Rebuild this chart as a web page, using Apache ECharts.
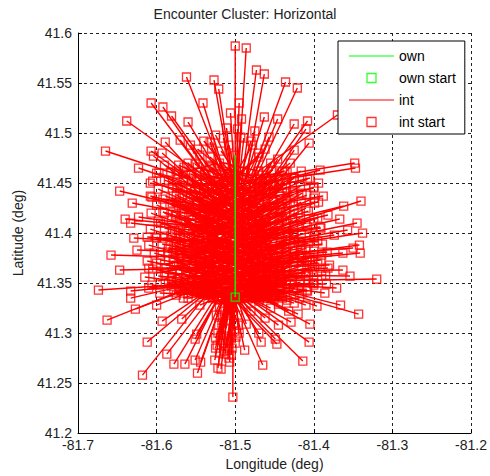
<!DOCTYPE html>
<html>
<head>
<meta charset="utf-8">
<script src="https://cdn.jsdelivr.net/npm/echarts@6.0.0/dist/echarts.min.js"></script>
<style>
  html, body { margin: 0; padding: 0; background: #fff; }
  #chart { width: 490px; height: 476px; }
</style>
</head>
<body>
<div id="chart"></div>
<script>
// Axis ticks
const xTickValues = [-81.7, -81.6, -81.5, -81.4, -81.3, -81.2];
const xTickLabels = ['-81.7', '-81.6', '-81.5', '-81.4', '-81.3', '-81.2'];
const yTickValues = [41.2, 41.25, 41.3, 41.35, 41.4, 41.45, 41.5, 41.55, 41.6];
const yTickLabels = ['41.2', '41.25', '41.3', '41.35', '41.4', '41.45', '41.5', '41.55', '41.6'];

// Own aircraft track (lon, lat)
const ownTrackLon = [-81.500, -81.500];
const ownTrackLat = [41.336, 41.478];
const ownStart = [-81.500, 41.336];

// Intruder tracks: [startLon, startLat, endLon, endLat]
const intTop = [
  [-81.500, 41.587, -81.500, 41.440], [-81.486, 41.585, -81.497, 41.445],
  [-81.473, 41.563, -81.492, 41.450], [-81.463, 41.559, -81.487, 41.452],
  [-81.562, 41.556, -81.512, 41.455], [-81.527, 41.553, -81.505, 41.455],
  [-81.521, 41.544, -81.503, 41.450], [-81.607, 41.530, -81.535, 41.455],
  [-81.592, 41.526, -81.530, 41.455], [-81.581, 41.517, -81.527, 41.458],
  [-81.541, 41.530, -81.510, 41.450], [-81.495, 41.530, -81.499, 41.440],
  [-81.638, 41.512, -81.545, 41.460], [-81.560, 41.511, -81.515, 41.452],
  [-81.463, 41.516, -81.490, 41.445], [-81.446, 41.514, -81.484, 41.442],
  [-81.425, 41.509, -81.476, 41.440], [-81.408, 41.512, -81.470, 41.445],
  [-81.410, 41.504, -81.468, 41.438], [-81.406, 41.490, -81.462, 41.435],
  [-81.425, 41.483, -81.470, 41.430], [-81.457, 41.496, -81.486, 41.438],
  [-81.475, 41.502, -81.491, 41.440], [-81.492, 41.514, -81.498, 41.442],
  [-81.436, 41.551, -81.482, 41.452], [-81.421, 41.545, -81.478, 41.448],
  [-81.511, 41.505, -81.502, 41.440], [-81.532, 41.491, -81.510, 41.440],
  [-81.570, 41.493, -81.522, 41.442], [-81.589, 41.491, -81.530, 41.440],
  [-81.557, 41.488, -81.518, 41.440], [-81.607, 41.482, -81.540, 41.445],
  [-81.593, 41.480, -81.535, 41.440], [-81.665, 41.482, -81.560, 41.455],
  [-81.370, 41.518, -81.470, 41.462], [-81.604, 41.477, -81.545, 41.440],
  [-81.497, 41.504, -81.499, 41.440], [-81.446, 41.474, -81.480, 41.430],
  [-81.506, 41.520, -81.500, 41.445], [-81.489, 41.495, -81.497, 41.440],
  [-81.540, 41.492, -81.500, 41.455], [-81.525, 41.498, -81.497, 41.450],
  [-81.508, 41.488, -81.496, 41.445], [-81.493, 41.496, -81.502, 41.448],
  [-81.478, 41.488, -81.505, 41.452], [-81.462, 41.484, -81.508, 41.450],
  [-81.548, 41.484, -81.492, 41.448], [-81.532, 41.476, -81.488, 41.445],
  [-81.518, 41.482, -81.485, 41.446], [-81.470, 41.476, -81.512, 41.446]
];

const intRight = [
  [-81.348, 41.470, -81.465, 41.455], [-81.347, 41.465, -81.470, 41.450],
  [-81.392, 41.463, -81.480, 41.445], [-81.394, 41.450, -81.478, 41.440],
  [-81.340, 41.432, -81.470, 41.400], [-81.362, 41.427, -81.475, 41.405],
  [-81.382, 41.418, -81.480, 41.400], [-81.367, 41.414, -81.475, 41.395],
  [-81.345, 41.410, -81.470, 41.390], [-81.338, 41.400, -81.465, 41.385],
  [-81.357, 41.403, -81.470, 41.388], [-81.374, 41.398, -81.478, 41.385],
  [-81.392, 41.406, -81.485, 41.395], [-81.342, 41.388, -81.465, 41.375],
  [-81.341, 41.380, -81.470, 41.370], [-81.363, 41.380, -81.475, 41.372],
  [-81.350, 41.385, -81.468, 41.378], [-81.320, 41.354, -81.460, 41.352],
  [-81.354, 41.357, -81.470, 41.358], [-81.371, 41.345, -81.475, 41.350],
  [-81.386, 41.340, -81.480, 41.350], [-81.363, 41.363, -81.470, 41.362],
  [-81.394, 41.431, -81.480, 41.420], [-81.388, 41.437, -81.480, 41.425],
  [-81.402, 41.372, -81.485, 41.370], [-81.380, 41.368, -81.480, 41.365],
  [-81.395, 41.392, -81.485, 41.385], [-81.405, 41.455, -81.482, 41.440],
  [-81.400, 41.445, -81.480, 41.432]
];

const intBottomRight = [
  [-81.445, 41.329, -81.495, 41.345], [-81.410, 41.328, -81.490, 41.350],
  [-81.396, 41.327, -81.488, 41.352], [-81.366, 41.328, -81.485, 41.352],
  [-81.343, 41.319, -81.480, 41.350], [-81.420, 41.319, -81.492, 41.345],
  [-81.429, 41.311, -81.495, 41.340], [-81.405, 41.309, -81.490, 41.345],
  [-81.445, 41.308, -81.497, 41.338], [-81.449, 41.294, -81.500, 41.335],
  [-81.447, 41.289, -81.500, 41.332], [-81.406, 41.291, -81.493, 41.340],
  [-81.414, 41.272, -81.495, 41.335], [-81.432, 41.322, -81.494, 41.345],
  [-81.462, 41.315, -81.498, 41.340], [-81.470, 41.300, -81.500, 41.336]
];

const intBottom = [
  [-81.467, 41.291, -81.498, 41.340], [-81.465, 41.268, -81.500, 41.330],
  [-81.488, 41.283, -81.502, 41.335], [-81.486, 41.309, -81.500, 41.340],
  [-81.503, 41.236, -81.503, 41.330], [-81.507, 41.271, -81.505, 41.335],
  [-81.518, 41.264, -81.508, 41.335], [-81.522, 41.265, -81.509, 41.335],
  [-81.526, 41.273, -81.510, 41.335], [-81.544, 41.271, -81.515, 41.335],
  [-81.551, 41.273, -81.515, 41.338], [-81.548, 41.260, -81.515, 41.335],
  [-81.564, 41.269, -81.520, 41.338], [-81.578, 41.269, -81.522, 41.340],
  [-81.587, 41.279, -81.525, 41.342], [-81.618, 41.258, -81.530, 41.345],
  [-81.612, 41.291, -81.530, 41.345], [-81.551, 41.294, -81.518, 41.340],
  [-81.549, 41.299, -81.518, 41.340], [-81.593, 41.312, -81.530, 41.345],
  [-81.568, 41.314, -81.525, 41.345], [-81.663, 41.313, -81.545, 41.350],
  [-81.627, 41.324, -81.540, 41.350], [-81.633, 41.335, -81.540, 41.352],
  [-81.600, 41.328, -81.535, 41.348], [-81.566, 41.335, -81.525, 41.346],
  [-81.525, 41.285, -81.508, 41.340]
];

const intLeft = [
  [-81.647, 41.442, -81.530, 41.420], [-81.608, 41.437, -81.525, 41.420],
  [-81.631, 41.430, -81.530, 41.415], [-81.640, 41.414, -81.530, 41.405],
  [-81.633, 41.410, -81.525, 41.400], [-81.623, 41.416, -81.525, 41.405],
  [-81.629, 41.395, -81.520, 41.390], [-81.612, 41.396, -81.520, 41.390],
  [-81.625, 41.383, -81.525, 41.380], [-81.658, 41.378, -81.530, 41.375],
  [-81.591, 41.395, -81.515, 41.390], [-81.647, 41.363, -81.530, 41.365],
  [-81.610, 41.365, -81.520, 41.365], [-81.674, 41.343, -81.540, 41.350],
  [-81.633, 41.342, -81.530, 41.350], [-81.610, 41.345, -81.525, 41.352],
  [-81.623, 41.465, -81.530, 41.440], [-81.597, 41.460, -81.525, 41.440],
  [-81.608, 41.450, -81.525, 41.435], [-81.592, 41.434, -81.520, 41.425],
  [-81.572, 41.428, -81.515, 41.415]
];

// tracks starting inside the cluster, west of the own track
const intWestCore = [
  [-81.590, 41.468, -81.495, 41.430], [-81.572, 41.468, -81.490, 41.438], [-81.551, 41.469, -81.485, 41.425], [-81.533, 41.467, -81.480, 41.432],
  [-81.600, 41.460, -81.492, 41.418], [-81.582, 41.461, -81.478, 41.428], [-81.563, 41.459, -81.487, 41.410], [-81.545, 41.461, -81.470, 41.425], [-81.527, 41.460, -81.476, 41.415],
  [-81.605, 41.452, -81.488, 41.412], [-81.590, 41.453, -81.472, 41.420], [-81.574, 41.451, -81.482, 41.402], [-81.556, 41.453, -81.466, 41.418], [-81.538, 41.452, -81.474, 41.405], [-81.521, 41.451, -81.462, 41.422],
  [-81.598, 41.444, -81.485, 41.405], [-81.580, 41.445, -81.468, 41.412], [-81.562, 41.443, -81.478, 41.395], [-81.546, 41.445, -81.460, 41.408], [-81.529, 41.444, -81.470, 41.398],
  [-81.606, 41.436, -81.482, 41.398], [-81.589, 41.437, -81.465, 41.405], [-81.571, 41.435, -81.475, 41.388], [-81.553, 41.437, -81.458, 41.400], [-81.536, 41.436, -81.468, 41.390], [-81.519, 41.435, -81.455, 41.410],
  [-81.600, 41.428, -81.480, 41.390], [-81.583, 41.429, -81.462, 41.398], [-81.565, 41.427, -81.472, 41.380], [-81.548, 41.429, -81.455, 41.392], [-81.530, 41.428, -81.465, 41.382],
  [-81.607, 41.420, -81.478, 41.383], [-81.592, 41.421, -81.460, 41.392], [-81.575, 41.419, -81.470, 41.373], [-81.557, 41.421, -81.452, 41.385], [-81.540, 41.420, -81.462, 41.375], [-81.523, 41.419, -81.450, 41.398],
  [-81.598, 41.412, -81.475, 41.376], [-81.581, 41.413, -81.458, 41.385], [-81.563, 41.411, -81.468, 41.366], [-81.545, 41.413, -81.450, 41.378], [-81.528, 41.412, -81.460, 41.368],
  [-81.608, 41.404, -81.472, 41.370], [-81.590, 41.405, -81.455, 41.378], [-81.572, 41.403, -81.466, 41.360], [-81.554, 41.405, -81.448, 41.372], [-81.537, 41.404, -81.458, 41.362], [-81.520, 41.403, -81.445, 41.385],
  [-81.600, 41.396, -81.470, 41.364], [-81.582, 41.397, -81.452, 41.372], [-81.566, 41.395, -81.464, 41.354], [-81.548, 41.397, -81.446, 41.366], [-81.531, 41.396, -81.456, 41.356],
  [-81.610, 41.388, -81.468, 41.358], [-81.593, 41.389, -81.450, 41.366], [-81.575, 41.387, -81.462, 41.350], [-81.558, 41.389, -81.444, 41.360], [-81.540, 41.388, -81.454, 41.352], [-81.522, 41.387, -81.440, 41.372],
  [-81.603, 41.380, -81.466, 41.353], [-81.586, 41.381, -81.448, 41.360], [-81.568, 41.379, -81.460, 41.346], [-81.550, 41.381, -81.442, 41.355], [-81.533, 41.380, -81.452, 41.348],
  [-81.612, 41.372, -81.464, 41.348], [-81.595, 41.373, -81.446, 41.355], [-81.578, 41.371, -81.458, 41.342], [-81.561, 41.373, -81.440, 41.350], [-81.543, 41.372, -81.450, 41.344], [-81.526, 41.371, -81.438, 41.360],
  [-81.605, 41.364, -81.462, 41.344], [-81.588, 41.365, -81.444, 41.350], [-81.571, 41.363, -81.456, 41.338], [-81.553, 41.365, -81.438, 41.346], [-81.536, 41.364, -81.448, 41.340],
  [-81.615, 41.356, -81.460, 41.340], [-81.598, 41.357, -81.442, 41.346], [-81.581, 41.355, -81.454, 41.335], [-81.563, 41.357, -81.436, 41.342], [-81.546, 41.356, -81.446, 41.336], [-81.529, 41.355, -81.434, 41.350],
  [-81.606, 41.348, -81.458, 41.338], [-81.589, 41.349, -81.440, 41.342], [-81.572, 41.347, -81.452, 41.333], [-81.556, 41.349, -81.434, 41.340], [-81.538, 41.348, -81.444, 41.334],
  [-81.596, 41.340, -81.456, 41.335], [-81.578, 41.341, -81.438, 41.338], [-81.560, 41.339, -81.450, 41.330], [-81.543, 41.341, -81.432, 41.336], [-81.527, 41.340, -81.442, 41.332]
];

// tracks starting inside the cluster, east of the own track
const intEastCore = [
  [-81.470, 41.462, -81.520, 41.425], [-81.452, 41.463, -81.530, 41.432], [-81.434, 41.461, -81.515, 41.418], [-81.416, 41.462, -81.525, 41.428],
  [-81.478, 41.454, -81.535, 41.418], [-81.460, 41.455, -81.512, 41.410], [-81.443, 41.453, -81.540, 41.425], [-81.425, 41.455, -81.520, 41.405], [-81.408, 41.454, -81.530, 41.415],
  [-81.470, 41.446, -81.545, 41.412], [-81.452, 41.447, -81.518, 41.400], [-81.435, 41.445, -81.550, 41.420], [-81.417, 41.447, -81.525, 41.398], [-81.400, 41.446, -81.535, 41.408],
  [-81.477, 41.438, -81.552, 41.405], [-81.461, 41.439, -81.522, 41.392], [-81.443, 41.437, -81.558, 41.412], [-81.426, 41.439, -81.530, 41.390], [-81.409, 41.438, -81.540, 41.400],
  [-81.469, 41.430, -81.560, 41.398], [-81.451, 41.431, -81.528, 41.385], [-81.434, 41.429, -81.565, 41.405], [-81.416, 41.431, -81.535, 41.382], [-81.399, 41.430, -81.545, 41.392],
  [-81.478, 41.422, -81.568, 41.390], [-81.460, 41.423, -81.532, 41.378], [-81.442, 41.421, -81.572, 41.398], [-81.425, 41.423, -81.540, 41.375], [-81.407, 41.422, -81.550, 41.385],
  [-81.470, 41.414, -81.575, 41.383], [-81.452, 41.415, -81.538, 41.370], [-81.435, 41.413, -81.580, 41.390], [-81.417, 41.415, -81.545, 41.368], [-81.400, 41.414, -81.555, 41.378],
  [-81.477, 41.406, -81.582, 41.375], [-81.460, 41.407, -81.542, 41.362], [-81.443, 41.405, -81.586, 41.383], [-81.426, 41.407, -81.550, 41.360], [-81.408, 41.406, -81.560, 41.370], [-81.391, 41.405, -81.548, 41.386],
  [-81.469, 41.398, -81.588, 41.368], [-81.451, 41.399, -81.546, 41.355], [-81.434, 41.397, -81.592, 41.376], [-81.416, 41.399, -81.555, 41.352], [-81.399, 41.398, -81.565, 41.362],
  [-81.478, 41.390, -81.594, 41.360], [-81.460, 41.391, -81.550, 41.348], [-81.442, 41.389, -81.596, 41.368], [-81.425, 41.391, -81.560, 41.345], [-81.407, 41.390, -81.570, 41.355], [-81.389, 41.389, -81.552, 41.375],
  [-81.470, 41.382, -81.598, 41.352], [-81.452, 41.383, -81.555, 41.342], [-81.435, 41.381, -81.600, 41.360], [-81.417, 41.383, -81.565, 41.340], [-81.400, 41.382, -81.575, 41.348], [-81.383, 41.381, -81.556, 41.368],
  [-81.477, 41.374, -81.560, 41.345], [-81.460, 41.375, -81.540, 41.340], [-81.443, 41.373, -81.580, 41.352], [-81.426, 41.375, -81.550, 41.338], [-81.408, 41.374, -81.570, 41.346], [-81.391, 41.373, -81.545, 41.360],
  [-81.469, 41.366, -81.555, 41.342], [-81.451, 41.367, -81.535, 41.336], [-81.434, 41.365, -81.575, 41.348], [-81.416, 41.367, -81.545, 41.335], [-81.399, 41.366, -81.565, 41.343], [-81.382, 41.365, -81.540, 41.356],
  [-81.478, 41.358, -81.550, 41.340], [-81.460, 41.359, -81.530, 41.334], [-81.442, 41.357, -81.570, 41.345], [-81.425, 41.359, -81.540, 41.333], [-81.407, 41.358, -81.560, 41.340], [-81.390, 41.357, -81.535, 41.352],
  [-81.470, 41.350, -81.545, 41.337], [-81.452, 41.351, -81.525, 41.332], [-81.435, 41.349, -81.565, 41.342], [-81.417, 41.351, -81.535, 41.331], [-81.400, 41.350, -81.555, 41.338], [-81.384, 41.349, -81.530, 41.348],
  [-81.477, 41.342, -81.540, 41.334], [-81.460, 41.343, -81.520, 41.330], [-81.443, 41.341, -81.560, 41.340], [-81.426, 41.343, -81.530, 41.330], [-81.408, 41.342, -81.550, 41.336],
  [-81.469, 41.334, -81.535, 41.331], [-81.451, 41.335, -81.515, 41.328], [-81.434, 41.333, -81.555, 41.338], [-81.418, 41.335, -81.525, 41.329]
];

// short tracks packed close to the own track, west side
const intInnerWest = [
  [-81.565, 41.466, -81.520, 41.445], [-81.548, 41.466, -81.497, 41.452], [-81.531, 41.466, -81.488, 41.440], [-81.514, 41.466, -81.470, 41.455],
  [-81.573, 41.459, -81.522, 41.470], [-81.556, 41.459, -81.505, 41.438], [-81.539, 41.459, -81.492, 41.448], [-81.522, 41.459, -81.475, 41.436], [-81.506, 41.459, -81.462, 41.446],
  [-81.566, 41.452, -81.515, 41.432], [-81.549, 41.452, -81.500, 41.462], [-81.532, 41.452, -81.482, 41.430], [-81.515, 41.452, -81.468, 41.440],
  [-81.574, 41.445, -81.526, 41.428], [-81.557, 41.445, -81.508, 41.455], [-81.540, 41.445, -81.490, 41.425], [-81.523, 41.445, -81.476, 41.432], [-81.507, 41.445, -81.458, 41.438],
  [-81.567, 41.438, -81.518, 41.420], [-81.550, 41.438, -81.502, 41.448], [-81.533, 41.438, -81.484, 41.418], [-81.516, 41.438, -81.466, 41.428],
  [-81.575, 41.431, -81.528, 41.412], [-81.558, 41.431, -81.510, 41.442], [-81.541, 41.431, -81.494, 41.410], [-81.524, 41.431, -81.474, 41.420], [-81.508, 41.431, -81.456, 41.425],
  [-81.568, 41.424, -81.520, 41.404], [-81.551, 41.424, -81.503, 41.436], [-81.534, 41.424, -81.486, 41.402], [-81.517, 41.424, -81.468, 41.412],
  [-81.576, 41.417, -81.530, 41.398], [-81.559, 41.417, -81.512, 41.428], [-81.542, 41.417, -81.495, 41.396], [-81.525, 41.417, -81.476, 41.405], [-81.509, 41.417, -81.458, 41.410],
  [-81.569, 41.410, -81.522, 41.390], [-81.552, 41.410, -81.505, 41.422], [-81.535, 41.410, -81.488, 41.388], [-81.518, 41.410, -81.470, 41.398],
  [-81.577, 41.403, -81.532, 41.384], [-81.560, 41.403, -81.514, 41.414], [-81.543, 41.403, -81.497, 41.382], [-81.526, 41.403, -81.478, 41.390], [-81.510, 41.403, -81.460, 41.396],
  [-81.570, 41.396, -81.524, 41.376], [-81.553, 41.396, -81.507, 41.408], [-81.536, 41.396, -81.490, 41.374], [-81.519, 41.396, -81.472, 41.384],
  [-81.578, 41.389, -81.534, 41.370], [-81.561, 41.389, -81.516, 41.400], [-81.544, 41.389, -81.499, 41.368], [-81.527, 41.389, -81.480, 41.376], [-81.511, 41.389, -81.462, 41.382],
  [-81.571, 41.382, -81.526, 41.362], [-81.554, 41.382, -81.509, 41.394], [-81.537, 41.382, -81.492, 41.360], [-81.520, 41.382, -81.474, 41.370],
  [-81.579, 41.375, -81.536, 41.356], [-81.562, 41.375, -81.518, 41.386], [-81.545, 41.375, -81.501, 41.354], [-81.528, 41.375, -81.482, 41.362], [-81.512, 41.375, -81.464, 41.368],
  [-81.572, 41.368, -81.528, 41.348], [-81.555, 41.368, -81.511, 41.380], [-81.538, 41.368, -81.494, 41.346], [-81.521, 41.368, -81.476, 41.356],
  [-81.580, 41.361, -81.538, 41.342], [-81.563, 41.361, -81.520, 41.372], [-81.546, 41.361, -81.503, 41.340], [-81.529, 41.361, -81.484, 41.348], [-81.513, 41.361, -81.466, 41.354],
  [-81.573, 41.354, -81.530, 41.338], [-81.556, 41.354, -81.513, 41.366], [-81.539, 41.354, -81.496, 41.336], [-81.522, 41.354, -81.478, 41.342],
  [-81.581, 41.347, -81.540, 41.336], [-81.564, 41.347, -81.522, 41.358], [-81.547, 41.347, -81.505, 41.332], [-81.530, 41.347, -81.486, 41.338], [-81.514, 41.347, -81.468, 41.344],
  [-81.566, 41.340, -81.525, 41.352], [-81.549, 41.340, -81.508, 41.330], [-81.532, 41.340, -81.490, 41.334], [-81.516, 41.340, -81.472, 41.338]
];

// short tracks packed close to the own track, east side
const intInnerEast = [
  [-81.488, 41.462, -81.530, 41.445], [-81.471, 41.462, -81.515, 41.470], [-81.454, 41.462, -81.500, 41.440], [-81.437, 41.462, -81.482, 41.452],
  [-81.494, 41.455, -81.540, 41.436], [-81.479, 41.455, -81.522, 41.466], [-81.462, 41.455, -81.508, 41.432], [-81.445, 41.455, -81.490, 41.444], [-81.428, 41.455, -81.474, 41.436],
  [-81.487, 41.448, -81.535, 41.428], [-81.470, 41.448, -81.515, 41.458], [-81.453, 41.448, -81.500, 41.425], [-81.436, 41.448, -81.482, 41.436],
  [-81.495, 41.441, -81.545, 41.420], [-81.478, 41.441, -81.524, 41.452], [-81.461, 41.441, -81.508, 41.418], [-81.444, 41.441, -81.490, 41.428], [-81.427, 41.441, -81.472, 41.420],
  [-81.486, 41.434, -81.535, 41.412], [-81.469, 41.434, -81.515, 41.445], [-81.452, 41.434, -81.500, 41.410], [-81.435, 41.434, -81.482, 41.420],
  [-81.494, 41.427, -81.545, 41.404], [-81.477, 41.427, -81.524, 41.438], [-81.460, 41.427, -81.508, 41.402], [-81.443, 41.427, -81.490, 41.412], [-81.426, 41.427, -81.472, 41.405],
  [-81.487, 41.420, -81.538, 41.396], [-81.470, 41.420, -81.516, 41.430], [-81.453, 41.420, -81.500, 41.394], [-81.436, 41.420, -81.482, 41.404],
  [-81.495, 41.413, -81.548, 41.390], [-81.478, 41.413, -81.526, 41.424], [-81.461, 41.413, -81.509, 41.388], [-81.444, 41.413, -81.490, 41.396], [-81.427, 41.413, -81.474, 41.390],
  [-81.486, 41.406, -81.538, 41.382], [-81.469, 41.406, -81.516, 41.416], [-81.452, 41.406, -81.500, 41.380], [-81.435, 41.406, -81.482, 41.388],
  [-81.494, 41.399, -81.548, 41.376], [-81.477, 41.399, -81.525, 41.410], [-81.460, 41.399, -81.508, 41.374], [-81.443, 41.399, -81.490, 41.382], [-81.426, 41.399, -81.474, 41.376],
  [-81.487, 41.392, -81.540, 41.368], [-81.470, 41.392, -81.517, 41.402], [-81.453, 41.392, -81.500, 41.366], [-81.436, 41.392, -81.482, 41.374], [-81.419, 41.392, -81.466, 41.380],
  [-81.495, 41.385, -81.550, 41.362], [-81.478, 41.385, -81.526, 41.396], [-81.461, 41.385, -81.509, 41.360], [-81.444, 41.385, -81.490, 41.368], [-81.427, 41.385, -81.474, 41.362], [-81.410, 41.385, -81.456, 41.372],
  [-81.486, 41.378, -81.540, 41.356], [-81.469, 41.378, -81.517, 41.388], [-81.452, 41.378, -81.500, 41.354], [-81.435, 41.378, -81.482, 41.362], [-81.418, 41.378, -81.465, 41.356],
  [-81.494, 41.371, -81.550, 41.350], [-81.477, 41.371, -81.525, 41.382], [-81.460, 41.371, -81.508, 41.348], [-81.443, 41.371, -81.490, 41.356], [-81.426, 41.371, -81.474, 41.350], [-81.409, 41.371, -81.456, 41.360],
  [-81.487, 41.364, -81.542, 41.344], [-81.470, 41.364, -81.518, 41.374], [-81.453, 41.364, -81.500, 41.342], [-81.436, 41.364, -81.482, 41.350], [-81.419, 41.364, -81.466, 41.344], [-81.402, 41.364, -81.448, 41.354],
  [-81.495, 41.357, -81.550, 41.340], [-81.478, 41.357, -81.526, 41.368], [-81.461, 41.357, -81.509, 41.338], [-81.444, 41.357, -81.490, 41.344], [-81.427, 41.357, -81.474, 41.340], [-81.410, 41.357, -81.456, 41.348],
  [-81.486, 41.350, -81.540, 41.336], [-81.469, 41.350, -81.517, 41.362], [-81.452, 41.350, -81.500, 41.334], [-81.435, 41.350, -81.482, 41.340], [-81.418, 41.350, -81.465, 41.336], [-81.401, 41.350, -81.448, 41.342],
  [-81.494, 41.343, -81.548, 41.334], [-81.477, 41.343, -81.525, 41.354], [-81.460, 41.343, -81.508, 41.332], [-81.443, 41.343, -81.490, 41.336], [-81.426, 41.343, -81.474, 41.333], [-81.409, 41.343, -81.456, 41.338],
  [-81.487, 41.336, -81.538, 41.345], [-81.470, 41.336, -81.518, 41.330], [-81.453, 41.336, -81.500, 41.332], [-81.436, 41.336, -81.482, 41.330]
];

const intCore = [
  [-81.545, 41.478, -81.505, 41.440], [-81.530, 41.485, -81.500, 41.445],
  [-81.520, 41.470, -81.498, 41.435], [-81.470, 41.480, -81.495, 41.440],
  [-81.455, 41.470, -81.490, 41.435], [-81.480, 41.492, -81.497, 41.445],
  [-81.515, 41.495, -81.502, 41.445], [-81.560, 41.470, -81.515, 41.440],
  [-81.440, 41.462, -81.485, 41.430], [-81.500, 41.478, -81.500, 41.430],
  [-81.575, 41.462, -81.525, 41.435], [-81.430, 41.470, -81.480, 41.440],
  [-81.585, 41.452, -81.520, 41.420], [-81.570, 41.445, -81.515, 41.415],
  [-81.555, 41.455, -81.510, 41.420], [-81.540, 41.440, -81.505, 41.410],
  [-81.525, 41.450, -81.500, 41.420], [-81.580, 41.430, -81.515, 41.410],
  [-81.565, 41.425, -81.510, 41.400], [-81.548, 41.432, -81.505, 41.405],
  [-81.590, 41.420, -81.520, 41.400], [-81.575, 41.438, -81.510, 41.415],
  [-81.535, 41.425, -81.500, 41.400], [-81.455, 41.452, -81.490, 41.420],
  [-81.440, 41.445, -81.485, 41.415], [-81.425, 41.455, -81.480, 41.425],
  [-81.415, 41.440, -81.478, 41.410], [-81.470, 41.440, -81.495, 41.415],
  [-81.430, 41.430, -81.485, 41.405], [-81.410, 41.425, -81.475, 41.400],
  [-81.450, 41.425, -81.490, 41.400], [-81.465, 41.458, -81.492, 41.425],
  [-81.420, 41.420, -81.480, 41.395], [-81.400, 41.435, -81.475, 41.410],
  [-81.595, 41.410, -81.520, 41.390], [-81.580, 41.400, -81.515, 41.385],
  [-81.565, 41.412, -81.510, 41.390], [-81.550, 41.395, -81.505, 41.380],
  [-81.585, 41.385, -81.520, 41.375], [-81.570, 41.380, -81.515, 41.370],
  [-81.555, 41.418, -81.510, 41.395], [-81.540, 41.405, -81.505, 41.385],
  [-81.600, 41.395, -81.525, 41.380], [-81.530, 41.390, -81.500, 41.375],
  [-81.560, 41.388, -81.510, 41.375], [-81.575, 41.392, -81.515, 41.380],
  [-81.410, 41.410, -81.480, 41.390], [-81.425, 41.400, -81.485, 41.385],
  [-81.440, 41.415, -81.490, 41.395], [-81.455, 41.405, -81.492, 41.385],
  [-81.400, 41.395, -81.478, 41.380], [-81.415, 41.385, -81.482, 41.375],
  [-81.430, 41.390, -81.486, 41.378], [-81.465, 41.395, -81.495, 41.380],
  [-81.395, 41.415, -81.475, 41.395], [-81.445, 41.380, -81.490, 41.370],
  [-81.470, 41.410, -81.497, 41.390], [-81.600, 41.370, -81.525, 41.360],
  [-81.590, 41.360, -81.520, 41.355], [-81.575, 41.368, -81.515, 41.358],
  [-81.560, 41.375, -81.510, 41.362], [-81.545, 41.360, -81.505, 41.352],
  [-81.585, 41.350, -81.520, 41.350], [-81.570, 41.345, -81.515, 41.348],
  [-81.555, 41.352, -81.510, 41.350], [-81.595, 41.378, -81.522, 41.365],
  [-81.535, 41.370, -81.505, 41.360], [-81.520, 41.358, -81.500, 41.350],
  [-81.540, 41.345, -81.505, 41.345], [-81.395, 41.370, -81.478, 41.362],
  [-81.410, 41.360, -81.482, 41.356], [-81.425, 41.372, -81.485, 41.364],
  [-81.440, 41.355, -81.488, 41.352], [-81.385, 41.358, -81.475, 41.355],
  [-81.400, 41.348, -81.480, 41.350], [-81.415, 41.340, -81.485, 41.346],
  [-81.430, 41.348, -81.488, 41.348], [-81.455, 41.365, -81.492, 41.360],
  [-81.470, 41.350, -81.495, 41.350], [-81.390, 41.378, -81.476, 41.368],
  [-81.405, 41.376, -81.480, 41.366], [-81.448, 41.375, -81.490, 41.368],
  [-81.462, 41.342, -81.495, 41.345], [-81.560, 41.335, -81.515, 41.342],
  [-81.545, 41.328, -81.510, 41.340], [-81.530, 41.338, -81.507, 41.342],
  [-81.575, 41.338, -81.520, 41.345], [-81.440, 41.335, -81.490, 41.342],
  [-81.455, 41.325, -81.493, 41.340], [-81.470, 41.332, -81.496, 41.340],
  [-81.425, 41.330, -81.488, 41.345], [-81.480, 41.322, -81.498, 41.338]
];

const intColumn = [
  [-81.520, 41.280, -81.508, 41.335], [-81.515, 41.290, -81.506, 41.335],
  [-81.510, 41.285, -81.505, 41.330], [-81.505, 41.278, -81.503, 41.330],
  [-81.500, 41.290, -81.502, 41.332], [-81.495, 41.300, -81.500, 41.335],
  [-81.522, 41.300, -81.510, 41.338], [-81.517, 41.310, -81.508, 41.338],
  [-81.512, 41.305, -81.506, 41.336], [-81.507, 41.295, -81.504, 41.333],
  [-81.502, 41.310, -81.502, 41.335], [-81.497, 41.318, -81.500, 41.338],
  [-81.524, 41.318, -81.510, 41.340], [-81.513, 41.322, -81.506, 41.340],
  [-81.508, 41.275, -81.504, 41.330], [-81.519, 41.293, -81.508, 41.336],
  [-81.523, 41.288, -81.506, 41.340], [-81.518, 41.298, -81.503, 41.338],
  [-81.514, 41.282, -81.500, 41.336], [-81.509, 41.292, -81.498, 41.340],
  [-81.504, 41.285, -81.508, 41.342], [-81.499, 41.296, -81.510, 41.338],
  [-81.496, 41.308, -81.512, 41.342], [-81.521, 41.308, -81.500, 41.342],
  [-81.516, 41.316, -81.498, 41.345], [-81.511, 41.312, -81.515, 41.345],
  [-81.506, 41.318, -81.518, 41.344], [-81.501, 41.302, -81.514, 41.340],
  [-81.525, 41.295, -81.504, 41.336], [-81.520, 41.326, -81.500, 41.348],
  [-81.505, 41.325, -81.520, 41.348], [-81.513, 41.279, -81.502, 41.332]
];

const intTracks = [].concat(intTop, intRight, intBottomRight, intBottom, intLeft,
  intWestCore, intEastCore, intInnerWest, intInnerEast, intCore, intColumn);

const RED = '#ff0000';
const GREEN = '#00ff00';
const FONT = '"Liberation Sans", Arial, sans-serif';
const LINE_ICON = 'path://M0,0H45V1H0Z';
const SQUARE_ICON = 'path://M0,0H10V10H0Z';

function tickLabel(values, labels) {
  return function (v) {
    for (let i = 0; i < values.length; i++) {
      if (Math.abs(values[i] - v) < 1e-6) return labels[i];
    }
    return '';
  };
}

const series = [];

// intruder trajectories, one line series per track
intTracks.forEach(function (t) {
  series.push({
    type: 'line', name: 'int',
    data: [[t[0], t[1]], [t[2], t[3]]],
    symbol: 'none', silent: true, z: 2,
    lineStyle: { color: RED, width: 1.4 },
    itemStyle: { color: RED }
  });
});

series.push({
  type: 'scatter', name: 'int start',
  data: intTracks.map(function (t) { return [t[0], t[1]]; }),
  symbol: 'rect', symbolSize: 8, silent: true, z: 3,
  itemStyle: { color: 'rgba(255,255,255,0)', borderColor: RED, borderWidth: 1.3 }
});

series.push({
  type: 'line', name: 'own',
  data: ownTrackLon.map(function (lon, i) { return [lon, ownTrackLat[i]]; }),
  symbol: 'none', silent: true, z: 4,
  lineStyle: { color: GREEN, width: 1.4 },
  itemStyle: { color: GREEN }
});

series.push({
  type: 'scatter', name: 'own start',
  data: [ownStart],
  symbol: 'rect', symbolSize: 8, silent: true, z: 5,
  itemStyle: { color: 'rgba(255,255,255,0)', borderColor: GREEN, borderWidth: 1.3 }
});

const chart = echarts.init(document.getElementById('chart'), null, { renderer: 'svg' });
chart.setOption({
  animation: false,
  backgroundColor: '#ffffff',
  textStyle: { fontFamily: FONT },
  title: {
    text: 'Encounter Cluster: Horizontal',
    left: 'center', top: 7, padding: 0,
    textStyle: { fontFamily: FONT, fontSize: 14, fontWeight: 'normal', color: '#222' }
  },
  legend: {
    data: [
      { name: 'own', icon: LINE_ICON, itemStyle: { color: GREEN, borderWidth: 0 } },
      { name: 'own start', icon: SQUARE_ICON,
        itemStyle: { color: 'rgba(255,255,255,0)', borderColor: GREEN, borderWidth: 1.3 } },
      { name: 'int', icon: LINE_ICON, itemStyle: { color: RED, borderWidth: 0 } },
      { name: 'int start', icon: SQUARE_ICON,
        itemStyle: { color: 'rgba(255,255,255,0)', borderColor: RED, borderWidth: 1.3 } }
    ],
    orient: 'vertical',
    left: 338, top: 41,
    padding: [8, 9, 5, 11],
    itemGap: 8,
    itemWidth: 45, itemHeight: 9,
    backgroundColor: '#ffffff',
    borderColor: '#000', borderWidth: 1, borderRadius: 0,
    selectedMode: false,
    textStyle: { fontFamily: FONT, fontSize: 14, color: '#000' }
  },
  grid: { left: 78, right: 14, top: 33, bottom: 41, containLabel: false },
  xAxis: {
    type: 'value', min: -81.7, max: -81.2, interval: 0.1,
    name: 'Longitude (deg)', nameLocation: 'middle', nameGap: 23,
    nameTextStyle: { fontFamily: FONT, fontSize: 14, color: '#222' },
    axisLine: { show: true, onZero: false, lineStyle: { color: '#000', width: 1 } },
    axisTick: { show: true, inside: true, length: 4, lineStyle: { color: '#000' } },
    axisLabel: { margin: 5, fontFamily: FONT, fontSize: 14, color: '#222',
      formatter: tickLabel(xTickValues, xTickLabels) },
    splitLine: { show: true, lineStyle: { color: '#222', type: [3, 3], width: 1 } }
  },
  yAxis: {
    type: 'value', min: 41.2, max: 41.6, interval: 0.05,
    name: 'Latitude (deg)', nameLocation: 'middle', nameGap: 53, nameRotate: 90,
    nameTextStyle: { fontFamily: FONT, fontSize: 14, color: '#222' },
    axisLine: { show: true, onZero: false, lineStyle: { color: '#000', width: 1 } },
    axisTick: { show: true, inside: true, length: 4, lineStyle: { color: '#000' } },
    axisLabel: { margin: 6, fontFamily: FONT, fontSize: 14, color: '#222',
      formatter: tickLabel(yTickValues, yTickLabels) },
    splitLine: { show: true, lineStyle: { color: '#222', type: [3, 3], width: 1 } }
  },
  series: series
});
</script>
</body>
</html>
